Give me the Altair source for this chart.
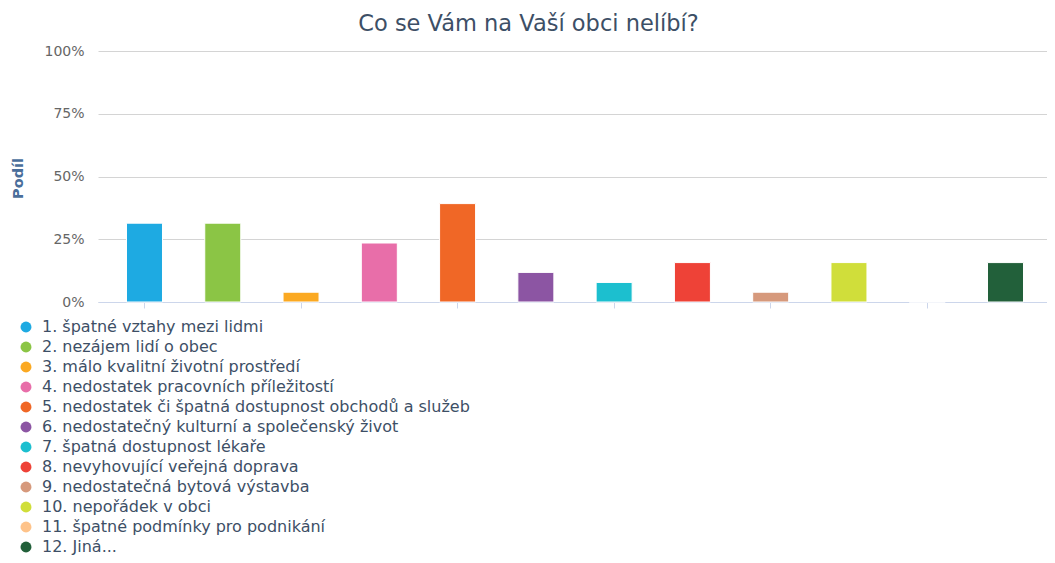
import altair as alt
import pandas as pd

categories = [
    "1. špatné vztahy mezi lidmi",
    "2. nezájem lidí o obec",
    "3. málo kvalitní životní prostředí",
    "4. nedostatek pracovních příležitostí",
    "5. nedostatek či špatná dostupnost obchodů a služeb",
    "6. nedostatečný kulturní a společenský život",
    "7. špatná dostupnost lékaře",
    "8. nevyhovující veřejná doprava",
    "9. nedostatečná bytová výstavba",
    "10. nepořádek v obci",
    "11. špatné podmínky pro podnikání",
    "12. Jiná...",
]
shares = [0.314, 0.314, 0.039, 0.235, 0.392, 0.118, 0.078, 0.157, 0.039, 0.157, 0.0, 0.157]
colors = ["#1eaae2", "#8bc545", "#fba922", "#e86ea9", "#f06726", "#8c55a3",
          "#1cbfcf", "#ee4237", "#d6997c", "#d0de3a", "#fec38a", "#22603a"]
y_ticks = [0, 0.25, 0.5, 0.75, 1.0]

df = pd.DataFrame({"kategorie": categories, "podil": shares})

FONT = "DejaVu Sans"

chart = alt.Chart(df).mark_bar(stroke="white", strokeWidth=1).encode(
    x=alt.X(
        "kategorie:N",
        sort=categories,
        scale=alt.Scale(domain=categories, paddingInner=0.54, paddingOuter=0.364, range=[0, 954]),
        axis=alt.Axis(
            title=None,
            labels=False,
            values=categories[0::2],
            ticks=True,
            tickSize=6,
            tickColor="#ccd6eb",
            domainColor="#ccd6eb",
            domainWidth=1,
            grid=False,
        ),
    ),
    y=alt.Y(
        "podil:Q",
        scale=alt.Scale(domain=[0, 1], nice=False),
        axis=alt.Axis(
            title="Podíl",
            values=y_ticks,
            format=".0%",
            labelFontSize=14,
            labelColor="#666666",
            labelFont=FONT,
            labelPadding=14,
            ticks=False,
            domain=False,
            gridColor="#d4d4d4",
            gridWidth=1,
            titleFont=FONT,
            titleFontSize=14.5,
            titleFontWeight="bold",
            titleColor="#4a6e9a",
            titleX=-80,
            titleY=127,
            titleAlign="center",
            titleBaseline="middle",
            titleAngle=270,
        ),
    ),
    color=alt.Color(
        "kategorie:N",
        sort=categories,
        scale=alt.Scale(domain=categories, range=colors),
        legend=alt.Legend(
            title=None,
            orient="none",
            legendX=-80,
            legendY=268,
            direction="vertical",
            symbolType="circle",
            symbolSize=120,
            symbolStrokeWidth=0,
            symbolOffset=0,
            labelFont=FONT,
            labelFontSize=16,
            labelColor="#3d4f66",
            labelOffset=8,
            rowPadding=4,
            padding=0,
            labelLimit=700,
        ),
    ),
).properties(
    width=945,
    height=251,
    autosize="none",
    padding={"left": 90, "top": 43, "right": 4, "bottom": 253},
    title=alt.TitleParams(
        "Co se Vám na Vaší obci nelíbí?",
        font=FONT,
        fontSize=22.5,
        fontWeight="normal",
        color="#3d4f66",
        anchor="middle",
        frame="group",
        dx=-42,
        offset=9,
    ),
).configure_view(stroke=None)

chart.save("out.html", embed_options={"renderer": "svg", "actions": False})
